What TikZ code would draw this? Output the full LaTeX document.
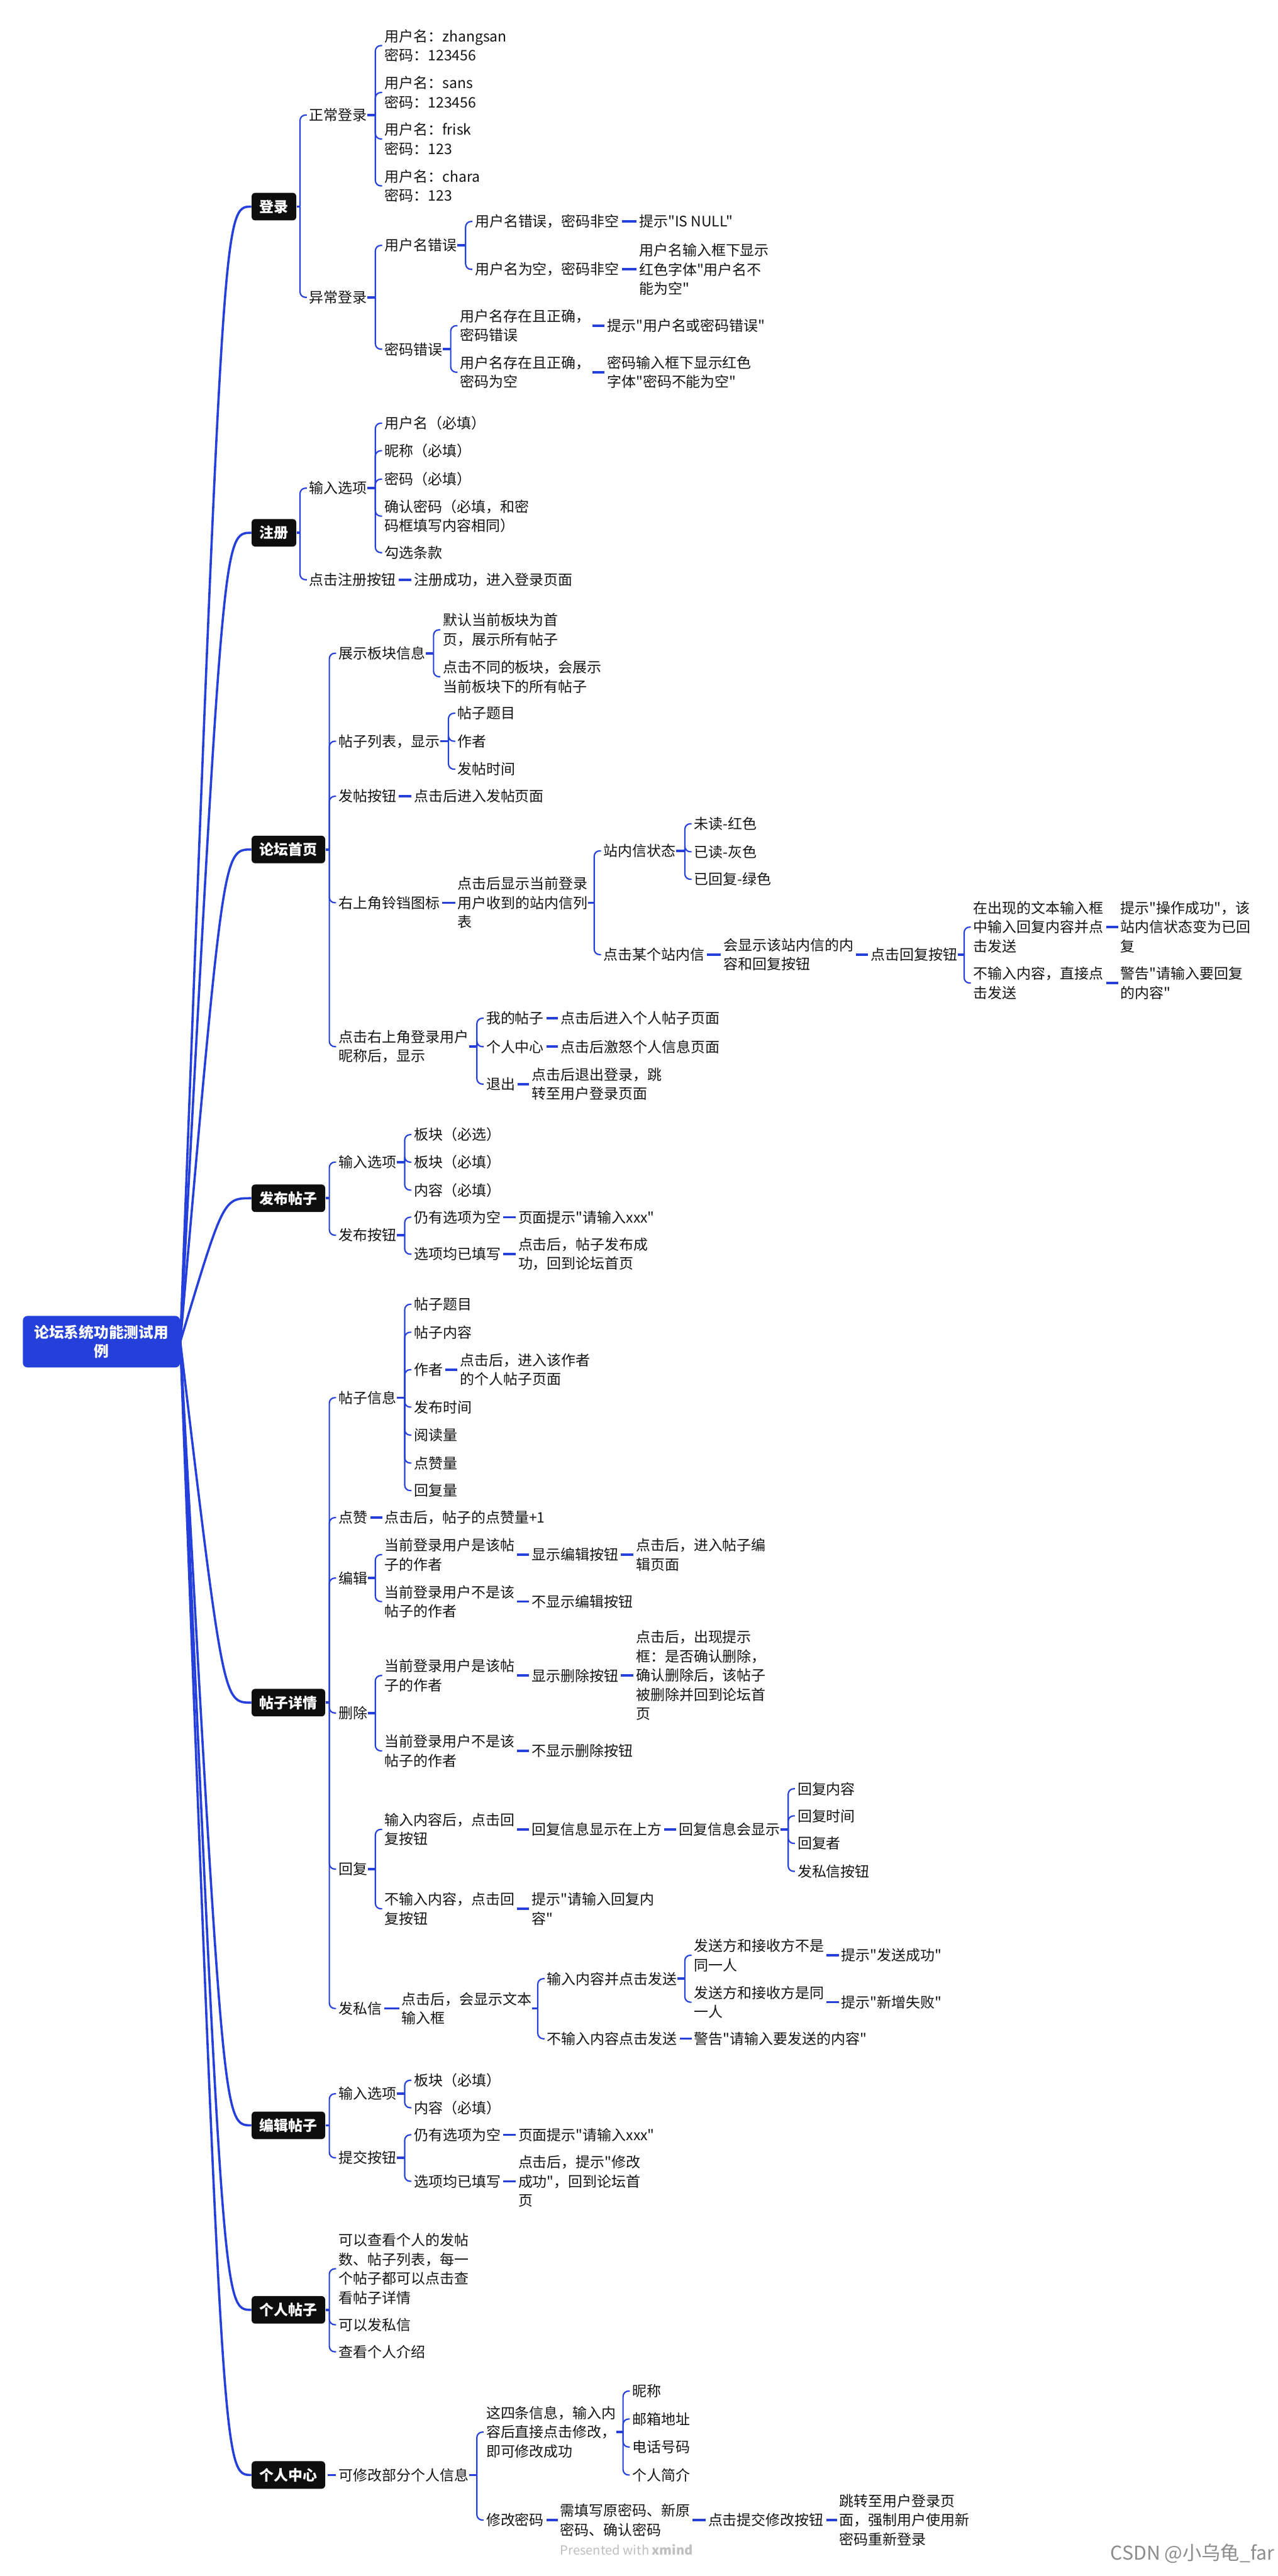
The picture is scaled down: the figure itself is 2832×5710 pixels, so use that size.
\documentclass[tikz,border=0pt]{standalone}
\usepackage{fontspec}
\setmainfont{Noto Sans CJK SC}[Ligatures=TeXOff]
\usetikzlibrary{calc}
\definecolor{xblue}{RGB}{37,64,218}
\definecolor{xtext}{RGB}{20,20,20}
\definecolor{xbox}{RGB}{14,14,14}
\newcommand{\tf}{\fontsize{9.1pt}{12.1pt}\selectfont}
\newcommand{\kids}[2]{%
  \foreach \c in {#2}{\coordinate (v\c) at ([xshift=-0.2cm]\c.west);
    \draw[br] (v\c |- #1.east) |- (\c.west);}%
  \foreach \c in {#2}{\draw[stub] (#1.east) -- (v\c |- #1.east);}%
}
\newcommand{\one}[2]{\draw[one] (#1.east) -- (#2.west);}
\begin{document}
\begin{tikzpicture}[x=0.01cm,y=-0.01cm,
  t/.style={anchor=west, inner sep=0pt, align=left, font=\tf, text=xtext},
  mainbox/.style={anchor=west, fill=xbox, rounded corners=0.08cm, text=white, font=\tf\bfseries, inner xsep=0.175cm, inner ysep=0pt, minimum height=0.61cm},
  rootline/.style={draw=xblue, line width=0.05cm},
  stub/.style={draw=xblue, line width=0.05cm},
  br/.style={draw=xblue, line width=0.03cm, rounded corners=0.12cm, shorten >=0.05cm},
  one/.style={draw=xblue, line width=0.05cm, shorten <=0.05cm, shorten >=0.05cm},
]
\fill[white] (0,0) rectangle (2832,5710);
\useasboundingbox (0,0) rectangle (2832,5710);

\node[anchor=west, fill=xblue, rounded corners=0.1cm, text=white, font=\fontsize{9.4pt}{12pt}\selectfont\bfseries, align=center, minimum width=3.48cm, minimum height=1.14cm] (root) at (50,2974) {论坛系统功能测试用\\例};

% 登录
\node[mainbox] (login) at (557,458) {登录};
\node[t] (l1) at (685,255) {正常登录};
\node[t] (l2) at (685,659) {异常登录};
\node[t] (l11) at (852,101) {用户名：zhangsan\\密码：123456};
\node[t] (l12) at (852,205) {用户名：sans\\密码：123456};
\node[t] (l13) at (852,308) {用户名：frisk\\密码：123};
\node[t] (l14) at (852,412) {用户名：chara\\密码：123};
\node[t] (l21) at (852,544) {用户名错误};
\node[t] (l22) at (852,774) {密码错误};
\node[t] (l211) at (1052,491) {用户名错误，密码非空};
\node[t] (l212) at (1052,597) {用户名为空，密码非空};
\node[t] (l2111) at (1416,491) {提示"IS NULL"};
\node[t] (l2121) at (1416,597) {用户名输入框下显示\\红色字体"用户名不\\能为空"};
\node[t] (l221) at (1019,722) {用户名存在且正确，\\密码错误};
\node[t] (l222) at (1019,825) {用户名存在且正确，\\密码为空};
\node[t] (l2211) at (1345,722) {提示"用户名或密码错误"};
\node[t] (l2221) at (1345,825) {密码输入框下显示红色\\字体"密码不能为空"};
\kids{login}{l1,l2}
\kids{l1}{l11,l12,l13,l14}
\kids{l2}{l21,l22}
\kids{l21}{l211,l212}
\kids{l22}{l221,l222}
\one{l211}{l2111}
\one{l212}{l2121}
\one{l221}{l2211}
\one{l222}{l2221}

% 注册
\node[mainbox] (reg) at (557,1181) {注册};
\node[t] (r1) at (685,1082) {输入选项};
\node[t] (r2) at (685,1285) {点击注册按钮};
\node[t] (r11) at (852,938) {用户名（必填）};
\node[t] (r12) at (852,999) {昵称（必填）};
\node[t] (r13) at (852,1062) {密码（必填）};
\node[t] (r14) at (852,1144) {确认密码（必填，和密\\码框填写内容相同）};
\node[t] (r15) at (852,1225) {勾选条款};
\node[t] (r21) at (917,1285) {注册成功，进入登录页面};
\kids{reg}{r1,r2}
\kids{r1}{r11,r12,r13,r14,r15}
\one{r2}{r21}

% 论坛首页
\node[mainbox] (home) at (557,1883) {论坛首页};
\node[t] (h1) at (750,1448) {展示板块信息};
\node[t] (h2) at (750,1643) {帖子列表，显示};
\node[t] (h3) at (750,1765) {发帖按钮};
\node[t] (h4) at (750,2001) {右上角铃铛图标};
\node[t] (h5) at (750,2320) {点击右上角登录用户\\昵称后，显示};
\node[t] (h11) at (981,1396) {默认当前板块为首\\页，展示所有帖子};
\node[t] (h12) at (981,1500) {点击不同的板块，会展示\\当前板块下的所有帖子};
\node[t] (h21) at (1014,1581) {帖子题目};
\node[t] (h22) at (1014,1643) {作者};
\node[t] (h23) at (1014,1705) {发帖时间};
\node[t] (h31) at (917,1765) {点击后进入发帖页面};
\node[t] (h41) at (1014,2001) {点击后显示当前登录\\用户收到的站内信列\\表};
\node[t] (h411) at (1337,1886) {站内信状态};
\node[t] (h412) at (1337,2116) {点击某个站内信};
\node[t] (h4111) at (1538,1826) {未读-红色};
\node[t] (h4112) at (1538,1888) {已读-灰色};
\node[t] (h4113) at (1538,1949) {已回复-绿色};
\node[t] (h4121) at (1603,2116) {会显示该站内信的内\\容和回复按钮};
\node[t] (h4122) at (1929,2116) {点击回复按钮};
\node[t] (h4123) at (2157,2055) {在出现的文本输入框\\中输入回复内容并点\\击发送};
\node[t] (h4124) at (2157,2179) {不输入内容，直接点\\击发送};
\node[t] (h4125) at (2483,2055) {提示"操作成功"，该\\站内信状态变为已回\\复};
\node[t] (h4126) at (2483,2179) {警告"请输入要回复\\的内容"};
\node[t] (h51) at (1077,2257) {我的帖子};
\node[t] (h52) at (1077,2320) {个人中心};
\node[t] (h53) at (1077,2403) {退出};
\node[t] (h511) at (1242,2257) {点击后进入个人帖子页面};
\node[t] (h521) at (1242,2320) {点击后激怒个人信息页面};
\node[t] (h531) at (1178,2403) {点击后退出登录，跳\\转至用户登录页面};
\kids{home}{h1,h2,h3,h4,h5}
\kids{h1}{h11,h12}
\kids{h2}{h21,h22,h23}
\one{h3}{h31}
\one{h4}{h41}
\kids{h41}{h411,h412}
\kids{h411}{h4111,h4112,h4113}
\one{h412}{h4121}
\one{h4121}{h4122}
\kids{h4122}{h4123,h4124}
\one{h4123}{h4125}
\one{h4124}{h4126}
\kids{h5}{h51,h52,h53}
\one{h51}{h511}
\one{h52}{h521}
\one{h53}{h531}

% 发布帖子
\node[mainbox] (post) at (557,2656) {发布帖子};
\node[t] (p1) at (750,2576) {输入选项};
\node[t] (p2) at (750,2738) {发布按钮};
\node[t] (p11) at (917,2515) {板块（必选）};
\node[t] (p12) at (917,2576) {板块（必填）};
\node[t] (p13) at (917,2638) {内容（必填）};
\node[t] (p21) at (917,2698) {仍有选项为空};
\node[t] (p22) at (917,2780) {选项均已填写};
\node[t] (p211) at (1148,2698) {页面提示"请输入xxx"};
\node[t] (p221) at (1148,2780) {点击后，帖子发布成\\功，回到论坛首页};
\kids{post}{p1,p2}
\kids{p1}{p11,p12,p13}
\kids{p2}{p21,p22}
\one{p21}{p211}
\one{p22}{p221}

% 帖子详情
\node[mainbox] (detail) at (557,3774) {帖子详情};
\node[t] (d1) at (750,3098) {帖子信息};
\node[t] (d2) at (750,3364) {点赞};
\node[t] (d3) at (750,3498) {编辑};
\node[t] (d4) at (750,3797) {删除};
\node[t] (d5) at (750,4143) {回复};
\node[t] (d6) at (750,4452) {发私信};
\node[t] (d11) at (917,2891) {帖子题目};
\node[t] (d12) at (917,2953) {帖子内容};
\node[t] (d13) at (917,3036) {作者};
\node[t] (d14) at (917,3119) {发布时间};
\node[t] (d15) at (917,3181) {阅读量};
\node[t] (d16) at (917,3243) {点赞量};
\node[t] (d17) at (917,3304) {回复量};
\node[t] (d131) at (1019,3036) {点击后，进入该作者\\的个人帖子页面};
\node[t] (d21) at (852,3364) {点击后，帖子的点赞量+1};
\node[t] (d31) at (852,3446) {当前登录用户是该帖\\子的作者};
\node[t] (d32) at (852,3550) {当前登录用户不是该\\帖子的作者};
\node[t] (d311) at (1178,3446) {显示编辑按钮};
\node[t] (d3111) at (1409,3446) {点击后，进入帖子编\\辑页面};
\node[t] (d321) at (1178,3550) {不显示编辑按钮};
\node[t] (d41) at (852,3714) {当前登录用户是该帖\\子的作者};
\node[t] (d42) at (852,3881) {当前登录用户不是该\\帖子的作者};
\node[t] (d411) at (1178,3714) {显示删除按钮};
\node[t] (d4111) at (1409,3714) {点击后，出现提示\\框：是否确认删除，\\确认删除后，该帖子\\被删除并回到论坛首\\页};
\node[t] (d421) at (1178,3881) {不显示删除按钮};
\node[t] (d51) at (852,4055) {输入内容后，点击回\\复按钮};
\node[t] (d52) at (852,4231) {不输入内容，点击回\\复按钮};
\node[t] (d511) at (1178,4055) {回复信息显示在上方};
\node[t] (d5111) at (1504,4055) {回复信息会显示};
\node[t] (d51111) at (1767,3965) {回复内容};
\node[t] (d51112) at (1767,4025) {回复时间};
\node[t] (d51113) at (1767,4086) {回复者};
\node[t] (d51114) at (1767,4148) {发私信按钮};
\node[t] (d521) at (1178,4231) {提示"请输入回复内\\容"};
\node[t] (d61) at (890,4452) {点击后，会显示文本\\输入框};
\node[t] (d611) at (1212,4386) {输入内容并点击发送};
\node[t] (d612) at (1212,4519) {不输入内容点击发送};
\node[t] (d6111) at (1538,4334) {发送方和接收方不是\\同一人};
\node[t] (d6112) at (1538,4438) {发送方和接收方是同\\一人};
\node[t] (d61111) at (1864,4334) {提示"发送成功"};
\node[t] (d61121) at (1864,4438) {提示"新增失败"};
\node[t] (d6121) at (1538,4519) {警告"请输入要发送的内容"};
\kids{detail}{d1,d2,d3,d4,d5,d6}
\kids{d1}{d11,d12,d13,d14,d15,d16,d17}
\one{d13}{d131}
\one{d2}{d21}
\kids{d3}{d31,d32}
\one{d31}{d311}
\one{d311}{d3111}
\one{d32}{d321}
\kids{d4}{d41,d42}
\one{d41}{d411}
\one{d411}{d4111}
\one{d42}{d421}
\kids{d5}{d51,d52}
\one{d51}{d511}
\one{d511}{d5111}
\kids{d5111}{d51111,d51112,d51113,d51114}
\one{d52}{d521}
\one{d6}{d61}
\kids{d61}{d611,d612}
\kids{d611}{d6111,d6112}
\one{d6111}{d61111}
\one{d6112}{d61121}
\one{d612}{d6121}

% 编辑帖子
\node[mainbox] (edit) at (557,4711) {编辑帖子};
\node[t] (e1) at (750,4641) {输入选项};
\node[t] (e2) at (750,4783) {提交按钮};
\node[t] (e11) at (917,4611) {板块（必填）};
\node[t] (e12) at (917,4672) {内容（必填）};
\node[t] (e21) at (917,4732) {仍有选项为空};
\node[t] (e22) at (917,4835) {选项均已填写};
\node[t] (e211) at (1148,4732) {页面提示"请输入xxx"};
\node[t] (e221) at (1148,4835) {点击后，提示"修改\\成功"，回到论坛首\\页};
\kids{edit}{e1,e2}
\kids{e1}{e11,e12}
\kids{e2}{e21,e22}
\one{e21}{e211}
\one{e22}{e221}

% 个人帖子
\node[mainbox] (mypost) at (557,5120) {个人帖子};
\node[t] (m1) at (750,5029) {可以查看个人的发帖\\数、帖子列表，每一\\个帖子都可以点击查\\看帖子详情};
\node[t] (m2) at (750,5153) {可以发私信};
\node[t] (m3) at (750,5213) {查看个人介绍};
\kids{mypost}{m1,m2,m3}

% 个人中心
\node[mainbox] (center) at (557,5486) {个人中心};
\node[t] (c1) at (750,5486) {可修改部分个人信息};
\node[t] (c11) at (1077,5391) {这四条信息，输入内\\容后直接点击修改，\\即可修改成功};
\node[t] (c12) at (1077,5586) {修改密码};
\node[t] (c111) at (1401,5300) {昵称};
\node[t] (c112) at (1401,5362) {邮箱地址};
\node[t] (c113) at (1401,5424) {电话号码};
\node[t] (c114) at (1401,5486) {个人简介};
\node[t] (c121) at (1241,5586) {需填写原密码、新原\\密码、确认密码};
\node[t] (c1211) at (1569,5586) {点击提交修改按钮};
\node[t] (c12111) at (1860,5586) {跳转至用户登录页\\面，强制用户使用新\\密码重新登录};
\one{center}{c1}
\kids{c1}{c11,c12}
\kids{c11}{c111,c112,c113,c114}
\one{c12}{c121}
\one{c121}{c1211}
\one{c1211}{c12111}

% root connectors
\coordinate (cx) at (495,0);
\foreach \m in {login,reg,home,post,detail,edit,mypost,center}{
  \draw[rootline] (root.east) .. controls (cx |- \m.west) .. (\m.west);
}

% watermarks
\node[anchor=west, inner sep=0pt, text=black!25, font=\fontsize{8pt}{9pt}\selectfont] (wm) at (1241,5652) {Presented with \textbf{xmind}};
\node[anchor=east, inner sep=0pt, text=black!45, font=\fontsize{12pt}{14pt}\selectfont] (csdn) at (2825,5660) {CSDN @小乌龟\_far};
\end{tikzpicture}
\end{document}
